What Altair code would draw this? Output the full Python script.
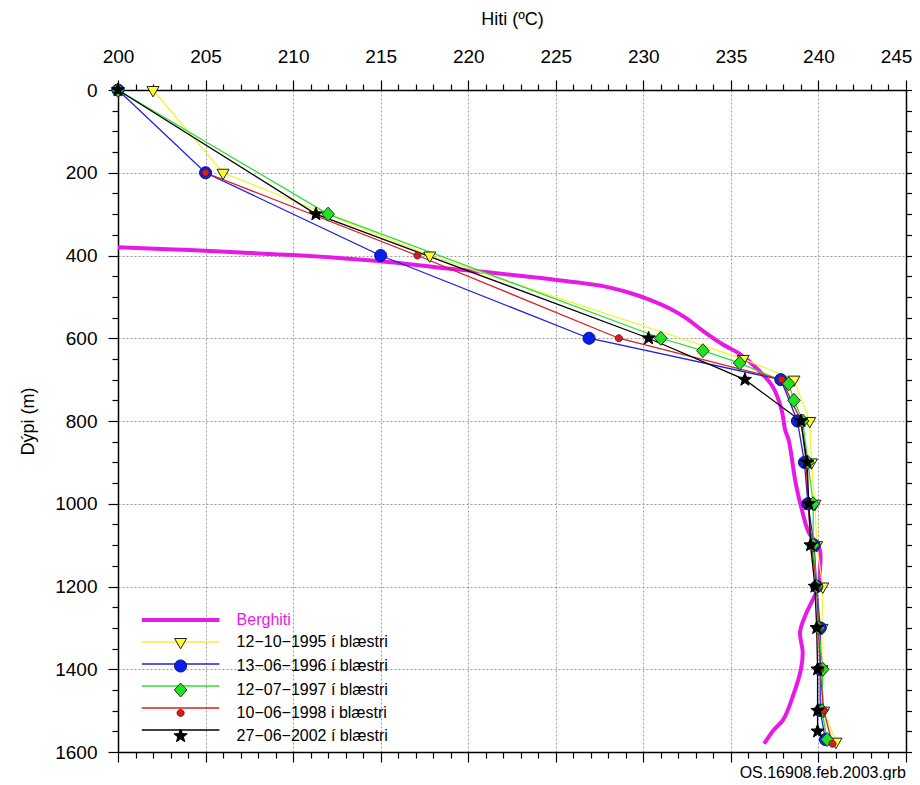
import math
import altair as alt
import pandas as pd

# ---------------- data ----------------
SERIES = [
    "Berghiti",
    "12−10−1995 í blæstri",
    "13−06−1996 í blæstri",
    "12−07−1997 í blæstri",
    "10−06−1998 i blæstri",
    "27−06−2002 í blæstri",
]

berg_temp = [200.0, 203.6, 207.0, 210.0, 215.0, 218.5, 221.0, 224.0, 227.7, 229.2, 230.3,
             231.5, 232.4, 233.4, 234.5, 235.5, 236.6, 237.4, 237.9, 238.1, 238.3, 238.7,
             239.05, 239.45, 239.9, 240.1, 240.1, 240.0, 239.7, 239.25, 238.95, 239.1,
             239.0, 238.55, 238.0, 237.4, 236.9]
berg_depth = [380, 386, 393, 399, 414, 430, 440, 454, 474, 490, 506,
              528, 550, 582, 614, 638, 678, 718, 774, 822, 846, 950,
              1014, 1070, 1095, 1115, 1150, 1200, 1230, 1270, 1310, 1360,
              1400, 1464, 1521, 1549, 1580]

d1995 = [0, 200, 400, 650, 700, 800, 900, 1000, 1100, 1200, 1300, 1400, 1500, 1575]
t1995 = [202.0, 206.0, 217.8, 235.7, 238.6, 239.5, 239.6, 239.8, 239.9, 240.25, 240.2, 240.2, 240.3, 241.0]

d1996 = [0, 200, 400, 600, 700, 800, 900, 1000, 1100, 1200, 1300, 1400, 1500, 1570]
t1996 = [200.0, 205.0, 215.0, 226.9, 237.85, 238.8, 239.2, 239.4, 239.75, 239.9, 240.1, 240.1, 240.1, 240.4]

d1997 = [0, 300, 600, 630, 660, 710, 750, 800, 900, 1000, 1100, 1200, 1300, 1400, 1500, 1570]
t1997 = [200.0, 212.0, 231.0, 233.4, 235.5, 238.3, 238.6, 239.1, 239.4, 239.7, 239.7, 239.9, 240.0, 240.25, 240.2, 240.5]

d1998 = [200, 400, 600, 700, 800, 900, 1000, 1100, 1200, 1300, 1400, 1500, 1580]
t1998 = [205.0, 217.1, 228.6, 237.9, 239.0, 239.3, 239.4, 239.6, 239.9, 240.0, 240.1, 240.3, 240.8]

d2002 = [0, 300, 600, 700, 800, 900, 1000, 1100, 1200, 1300, 1400, 1500, 1550]
t2002 = [200.0, 211.3, 230.3, 235.8, 239.0, 239.35, 239.45, 239.55, 239.8, 239.9, 239.95, 239.95, 239.95]

measured = [(SERIES[1], d1995, t1995), (SERIES[2], d1996, t1996), (SERIES[3], d1997, t1997),
            (SERIES[4], d1998, t1998), (SERIES[5], d2002, t2002)]

df_berg = pd.DataFrame({"series": SERIES[0], "temp": berg_temp, "depth": berg_depth})
df_meas = pd.concat([pd.DataFrame({"series": s, "temp": t, "depth": d}) for s, d, t in measured],
                    ignore_index=True)

# ---------------- styling ----------------
LINE_COLORS = ["#e619e6", "#f2f23a", "#2020e0", "#2ee02e", "#d42020", "#000000"]
LINE_WIDTHS = [4.0, 1.3, 1.3, 1.3, 1.3, 1.3]
FILLS = ["#ffff30", "#0a1ee6", "#22e022", "#d02020", "#000000"]
OUTLINES = ["#222222", "#10108a", "#1a3a1a", "#7a1010", "#000000"]


def poly(points):
    return "M" + "L".join(f"{x:.3f},{y:.3f}" for x, y in points) + "Z"


def circle_path(r, n=20):
    return poly([(r * math.cos(2 * math.pi * k / n), r * math.sin(2 * math.pi * k / n)) for k in range(n)])


def star_path(ro=1.0, ri=0.42):
    pts = []
    for k in range(10):
        a = -math.pi / 2 + k * math.pi / 5
        r = ro if k % 2 == 0 else ri
        pts.append((r * math.cos(a), r * math.sin(a)))
    return poly(pts)


SHAPES = [
    poly([(-0.86, -0.5), (0.86, -0.5), (0.0, 0.99)]),
    circle_path(0.86),
    poly([(0, -1.0), (0.9, 0), (0, 1.0), (-0.9, 0)]),
    circle_path(0.5),
    star_path(),
]
LEGEND_LINE = "M-9.7,0H9.7"
FONT = "Liberation Sans"


def cond(test, a, b):
    return {"condition": {"test": test, "value": a}, "value": b}


xscale = alt.Scale(domain=[200, 245], nice=False, zero=False)
yscale = alt.Scale(domain=[0, 1600], reverse=True, nice=False, zero=False)
XVALS = list(range(200, 246))
YVALS = list(range(0, 1601, 50))
XMAJ = "datum.value % 5 === 0"
YMAJ = "datum.value % 200 === 0"

top_axis = alt.Axis(orient="top", values=XVALS, format="d",
                    labelExpr=f"{XMAJ} ? datum.label : ''", labelOverlap=False, labelFlush=False,
                    labelOffset=cond("datum.value === 245", -10, 0),
                    tickSize=cond(XMAJ, 10, 6), gridOpacity=cond(XMAJ, 1, 0),
                    grid=True, gridColor="#9a9a9a", gridDash=[2, 2], gridWidth=1,
                    labelPadding=14, title="Hiti (ºC)", titlePadding=19)
left_axis = alt.Axis(orient="left", values=YVALS, format="d",
                     labelExpr=f"{YMAJ} ? datum.label : ''", labelOverlap=False, labelFlush=False,
                     tickSize=cond(YMAJ, 10, 6), gridOpacity=cond(YMAJ, 1, 0),
                     grid=True, gridColor="#9a9a9a", gridDash=[2, 2], gridWidth=1,
                     labelPadding=11, title="Dýpi (m)", titlePadding=17)
bottom_axis = alt.Axis(orient="bottom", values=XVALS, labels=False, grid=False, title=None,
                       tickSize=cond(XMAJ, 10, 6))
right_axis = alt.Axis(orient="right", values=YVALS, labels=False, grid=False, title=None,
                      tickSize=cond(YMAJ, 10, 6))

legend_a = alt.Legend(title=None, orient="none", legendX=54.6, legendY=522,
                      symbolType=LEGEND_LINE, symbolSize=64, symbolOpacity=1,
                      labelFont=FONT, labelFontSize=16, labelOffset=48, rowPadding=6, padding=0,
                      labelExpr="datum.value === 'Berghiti' ? datum.label : ''",
                      labelColor="#e619e6")
legend_b = alt.Legend(title=None, orient="none", legendX=54.6, legendY=544,
                      symbolSize=196, symbolStrokeWidth=1, symbolOpacity=1,
                      labelFont=FONT, labelFontSize=16, labelColor="black", labelOffset=48,
                      rowPadding=6, padding=0)

color_enc = alt.Color("series:N", scale=alt.Scale(domain=SERIES, range=LINE_COLORS), legend=legend_a)
width_enc = alt.StrokeWidth("series:N", scale=alt.Scale(type="ordinal", domain=SERIES, range=LINE_WIDTHS),
                            legend=legend_a)

berg = alt.Chart(df_berg).mark_line(interpolate="catmull-rom").encode(
    x=alt.X("temp:Q", scale=xscale, axis=top_axis),
    y=alt.Y("depth:Q", scale=yscale, axis=left_axis),
    color=color_enc, strokeWidth=width_enc, order=alt.Order("depth:Q"))

lines = alt.Chart(df_meas).mark_line().encode(
    x=alt.X("temp:Q", scale=xscale, axis=None),
    y=alt.Y("depth:Q", scale=yscale, axis=None),
    color=color_enc, strokeWidth=width_enc, order=alt.Order("depth:Q"))

points = alt.Chart(df_meas).mark_point(filled=True, size=196, strokeWidth=1, opacity=1).encode(
    x=alt.X("temp:Q", scale=xscale, axis=None),
    y=alt.Y("depth:Q", scale=yscale, axis=None),
    shape=alt.Shape("series:N", scale=alt.Scale(domain=SERIES[1:], range=SHAPES), legend=legend_b),
    fill=alt.Fill("series:N", scale=alt.Scale(domain=SERIES[1:], range=FILLS), legend=legend_b),
    stroke=alt.Stroke("series:N", scale=alt.Scale(domain=SERIES[1:], range=OUTLINES), legend=legend_b))

frame = alt.Chart(df_meas).mark_point(opacity=0).encode(
    x=alt.X("temp:Q", scale=xscale, axis=bottom_axis),
    y=alt.Y("depth:Q", scale=yscale, axis=right_axis))

chart = alt.layer(berg, lines, points, frame).resolve_axis(
    x="independent", y="independent"
).properties(
    width=788, height=662,
    background="white",
    padding={"left": 110, "top": 82, "right": 6, "bottom": 28},
    autosize=alt.AutoSizeParams(type="none"),
    title=alt.TitleParams("OS.16908.feb.2003.grb", orient="bottom", anchor="end", frame="group",
                          fontSize=16, fontWeight="normal", font=FONT, color="black", offset=2),
).configure_view(stroke="black", strokeWidth=1).configure_axis(
    labelFont=FONT, labelFontSize=19, labelColor="black", titleFont=FONT, titleFontSize=18,
    titleFontWeight="normal", titleColor="black", domainColor="black", domainWidth=1.5,
    tickColor="black", tickWidth=1.2
)

chart.save("out.html", embed_options={"renderer": "svg", "actions": False})
